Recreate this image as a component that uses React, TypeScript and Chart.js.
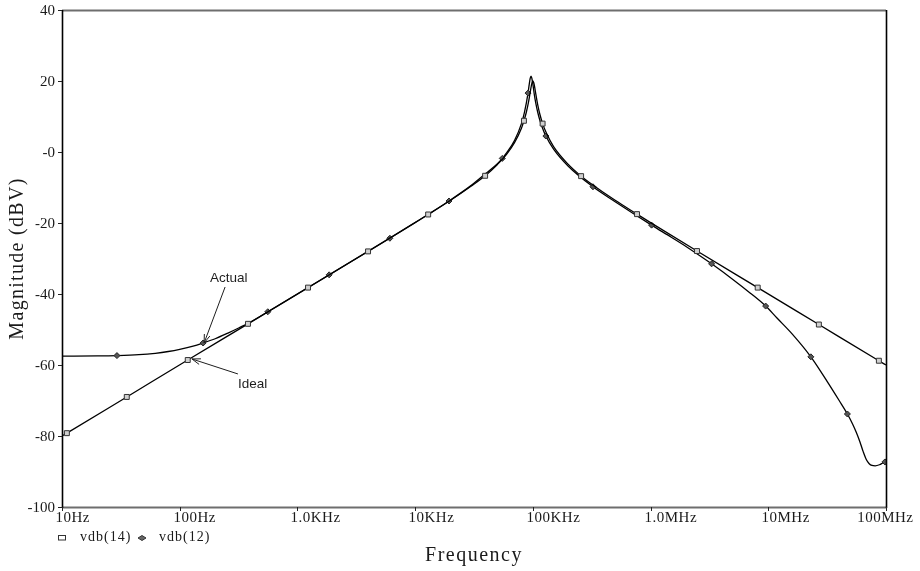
import { useEffect, useRef } from "react";
import { Chart, registerables } from "chart.js";

Chart.register(...registerables);

// Axis ticks and their printed labels
const freqTicks = [10, 100, 1e3, 1e4, 1e5, 1e6, 1e7, 1e8];
const freqLabels = ["10Hz", "100Hz", "1.0KHz", "10KHz", "100KHz", "1.0MHz", "10MHz", "100MHz"];
const dbTicks = [40, 20, 0, -20, -40, -60, -80, -100];
const dbLabels = ["40", "20", "-0", "-20", "-40", "-60", "-80", "-100"];

// vdb(14): ideal response
const idealFreq = [
  10, 11, 35.5, 117, 380, 1230, 3980, 12900, 20000, 30000, 39300, 50000, 60000, 70000,
  80000, 84000, 88000, 92000, 95000, 97500, 100000, 102500, 105000, 110000, 115000,
  121000, 130000, 150000, 200000, 257000, 300000, 500000, 767000, 1e6, 2.48e6, 8.13e6,
  2.69e7, 8.7e7, 1e8,
];
const idealDb = [
  -80, -79.2, -69.0, -58.6, -48.4, -38.2, -28.0, -17.6, -13.6, -9.6, -6.7, -3.5, -0.6, 2.7,
  6.7, 8.8, 11.2, 14.2, 16.9, 19.0, 20.0, 19.1, 17.1, 13.3, 10.5,
  8.0, 5.4, 1.5, -3.5, -6.8, -8.5, -13.6, -17.5, -19.9, -27.9, -38.2,
  -48.6, -58.8, -60.0,
];
const idealMarks = [1, 2, 3, 4, 5, 6, 7, 10, 15, 25, 29, 32, 34, 35, 36, 37];

// vdb(12): actual response
const actualFreq = [
  10, 20, 29.3, 45, 62, 80, 100, 130, 158, 200, 257, 320, 400, 560, 1000, 1860, 6100, 10000,
  19400, 30000, 40000, 50000, 55000, 60000, 70000, 80000, 85000, 91000, 93000, 95000, 96500,
  98000, 100000, 103000, 106000, 110000, 115000, 120000, 129000, 150000, 200000, 324000,
  500000, 1.02e6, 1.5e6, 2e6, 3.3e6, 5e6, 7e6, 9.5e6, 1.18e7, 1.6e7, 2.3e7, 3.16e7, 4e7,
  4.7e7, 5.2e7, 5.6e7, 6e7, 6.4e7, 6.8e7, 7.2e7, 7.6e7, 8.1e7, 8.8e7, 9.4e7, 9.8e7, 1e8,
];
const actualDb = [
  -57.5, -57.45, -57.35, -57.1, -56.7, -56.2, -55.6, -54.7, -53.8, -52.6, -51.0, -49.5, -47.9,
  -45.0, -40.0, -34.6, -24.3, -19.9, -13.8, -9.4, -6.0, -3.3, -1.8, -0.2, 3.3, 8.0, 11.3,
  16.6, 18.9, 20.8, 21.4, 20.8, 19.1, 16.1, 13.7, 11.2, 8.8, 7.0, 4.5, 0.8, -4.0, -9.8,
  -14.0, -20.6, -24.0, -26.6, -31.5, -35.9, -39.7, -43.4, -46.7, -51.3, -57.7, -64.6, -70.0,
  -73.8, -76.6, -79.0, -81.6, -84.4, -86.6, -87.8, -88.3, -88.4, -88.1, -87.6, -87.3, -87.2,
];
const actualMarks = [2, 8, 13, 15, 16, 18, 22, 27, 38, 41, 43, 46, 49, 52, 55, 66];

// Callout anchors: [frequency, dB]
const actualCallout = [158, -53.8];
const idealCallout = [127, -58.3];

const SERIF = '"Liberation Serif", "Times New Roman", serif';
const SANS = '"Liberation Sans", Arial, sans-serif';

function toPoints(fs: number[], ds: number[]) {
  return fs.map((f, i) => ({ x: f, y: ds[i] }));
}

function drawArrow(ctx: CanvasRenderingContext2D, fx: number, fy: number, tx: number, ty: number) {
  ctx.beginPath();
  ctx.moveTo(fx, fy);
  ctx.lineTo(tx, ty);
  ctx.stroke();
  const ang = Math.atan2(fy - ty, fx - tx);
  const len = 9;
  const spread = 0.33;
  ctx.beginPath();
  ctx.moveTo(tx + len * Math.cos(ang - spread), ty + len * Math.sin(ang - spread));
  ctx.lineTo(tx, ty);
  ctx.lineTo(tx + len * Math.cos(ang + spread), ty + len * Math.sin(ang + spread));
  ctx.stroke();
}

const decorPlugin = {
  id: "probeDecor",
  afterDraw(chart: any) {
    const { ctx, chartArea: a, scales } = chart;
    const xs = scales.x;
    const ys = scales.y;
    ctx.save();

    // plot frame
    ctx.lineCap = "butt";
    ctx.strokeStyle = "#6e6e6e";
    ctx.lineWidth = 2;
    ctx.beginPath();
    ctx.moveTo(a.left, a.top + 0.5);
    ctx.lineTo(a.right, a.top + 0.5);
    ctx.moveTo(a.left, a.bottom + 0.5);
    ctx.lineTo(a.right, a.bottom + 0.5);
    ctx.stroke();
    ctx.strokeStyle = "#000";
    ctx.lineWidth = 1.6;
    ctx.beginPath();
    ctx.moveTo(a.left + 0.5, a.top);
    ctx.lineTo(a.left + 0.5, a.bottom + 1);
    ctx.moveTo(a.right + 0.5, a.top);
    ctx.lineTo(a.right + 0.5, a.bottom + 1);
    ctx.stroke();

    // y ticks and labels
    ctx.lineWidth = 1;
    ctx.strokeStyle = "#222";
    ctx.fillStyle = "#1a1a1a";
    ctx.font = `15px ${SERIF}`;
    ctx.textAlign = "right";
    ctx.textBaseline = "middle";
    dbTicks.forEach((v, i) => {
      const y = Math.round(ys.getPixelForValue(v)) + 0.5;
      ctx.beginPath();
      ctx.moveTo(a.left - 4, y);
      ctx.lineTo(a.left, y);
      ctx.stroke();
      ctx.fillText(dbLabels[i], a.left - 7, y + 1);
    });

    // x ticks and labels
    ctx.textBaseline = "alphabetic";
    (ctx as any).letterSpacing = "0.5px";
    freqTicks.forEach((v, i) => {
      const x = Math.round(xs.getPixelForValue(v)) + 0.5;
      ctx.beginPath();
      ctx.moveTo(x, a.bottom);
      ctx.lineTo(x, a.bottom + 4);
      ctx.stroke();
      if (i === freqTicks.length - 1) {
        ctx.textAlign = "right";
        ctx.fillText(freqLabels[i], x + 27, a.bottom + 15);
      } else {
        ctx.textAlign = "left";
        ctx.fillText(freqLabels[i], x - 7, a.bottom + 15);
      }
    });

    // legend
    const ly = a.bottom + 31;
    ctx.strokeStyle = "#333";
    ctx.lineWidth = 1;
    ctx.strokeRect(a.left - 3.5, ly - 2.5, 7, 4.5);
    (ctx as any).letterSpacing = "1px";
    ctx.font = `14px ${SERIF}`;
    ctx.textAlign = "left";
    ctx.fillText("vdb(14)", a.left + 18, ly + 3);
    const dx = a.left + 80;
    ctx.fillStyle = "#666";
    ctx.beginPath();
    ctx.moveTo(dx - 4, ly);
    ctx.lineTo(dx, ly - 2.5);
    ctx.lineTo(dx + 4, ly);
    ctx.lineTo(dx, ly + 2.5);
    ctx.closePath();
    ctx.fill();
    ctx.stroke();
    ctx.fillStyle = "#1a1a1a";
    ctx.fillText("vdb(12)", a.left + 97, ly + 3);

    // axis titles
    ctx.font = `20px ${SERIF}`;
    (ctx as any).letterSpacing = "1.5px";
    ctx.textAlign = "center";
    ctx.fillText("Frequency", (a.left + a.right) / 2, a.bottom + 54);
    ctx.save();
    ctx.translate(18, (a.top + a.bottom) / 2);
    ctx.rotate(-Math.PI / 2);
    (ctx as any).letterSpacing = "1.3px";
    ctx.textBaseline = "middle";
    ctx.fillText("Magnitude (dBV)", 0, 0);
    ctx.restore();
    (ctx as any).letterSpacing = "0px";

    // callouts
    ctx.font = `13.5px ${SANS}`;
    ctx.textAlign = "left";
    ctx.textBaseline = "alphabetic";
    ctx.fillStyle = "#1e1e1e";
    ctx.strokeStyle = "#1e1e1e";
    ctx.lineWidth = 1;
    const ax = xs.getPixelForValue(actualCallout[0]) + 1;
    const ay = ys.getPixelForValue(actualCallout[1]);
    drawArrow(ctx, ax + 21, ay - 56, ax, ay);
    ctx.fillText("Actual", ax + 6, ay - 61);
    const ix = xs.getPixelForValue(idealCallout[0]);
    const iy = ys.getPixelForValue(idealCallout[1]);
    drawArrow(ctx, ix + 46, iy + 15, ix, iy);
    ctx.fillText("Ideal", ix + 46, iy + 29);

    ctx.restore();
  },
};

export default function App() {
  const canvasRef = useRef<HTMLCanvasElement | null>(null);

  useEffect(() => {
    document.body.style.margin = "0";
    const canvas = canvasRef.current;
    if (!canvas) return;

    const lineStyle = {
      borderColor: "#000",
      borderWidth: 1.3,
      cubicInterpolationMode: "monotone" as const,
      fill: false,
      pointBorderWidth: 1,
      pointHoverRadius: 0,
    };

    const chart = new Chart(canvas, {
      type: "line",
      data: {
        datasets: [
          {
            ...lineStyle,
            label: "vdb(14)",
            data: toPoints(idealFreq, idealDb),
            pointStyle: "rect",
            pointRadius: (c: any) => (idealMarks.includes(c.dataIndex) ? 3.5 : 0),
            pointBackgroundColor: "#d0d0d0",
            pointBorderColor: "#333",
          },
          {
            ...lineStyle,
            label: "vdb(12)",
            data: toPoints(actualFreq, actualDb),
            pointStyle: "rectRot",
            pointRadius: (c: any) => (actualMarks.includes(c.dataIndex) ? 3 : 0),
            pointBackgroundColor: "#555",
            pointBorderColor: "#222",
          },
        ],
      },
      options: {
        animation: false,
        responsive: false,
        devicePixelRatio: 1,
        parsing: false as any,
        layout: { padding: { left: 62, right: 34, top: 10, bottom: 64 } },
        plugins: {
          legend: { display: false },
          tooltip: { enabled: false },
        },
        events: [],
        scales: {
          x: { type: "logarithmic", min: 10, max: 1e8, display: false },
          y: { type: "linear", min: -100, max: 40, display: false },
        },
      },
      plugins: [decorPlugin],
    });

    return () => chart.destroy();
  }, []);

  return (
    <div style={{ position: "absolute", left: 0, top: 0, width: 920, height: 571, background: "#fff" }}>
      <canvas ref={canvasRef} width={920} height={571} />
    </div>
  );
}
